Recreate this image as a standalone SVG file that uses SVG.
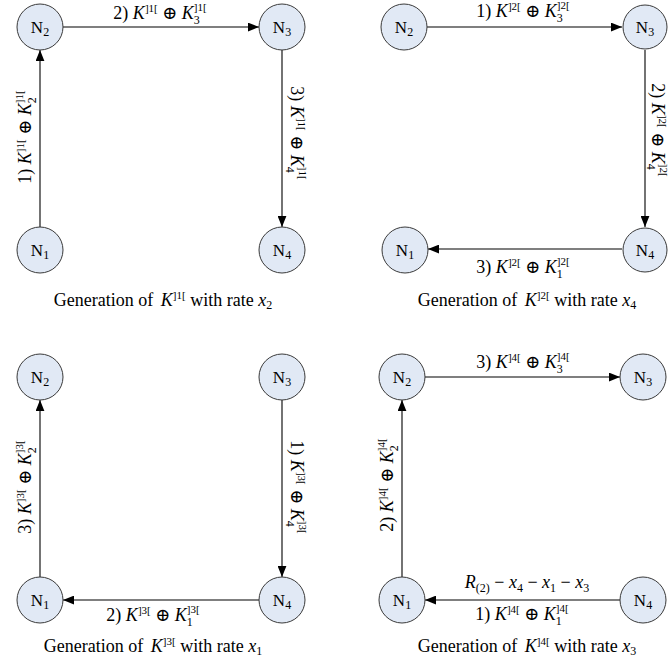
<svg xmlns="http://www.w3.org/2000/svg" width="668" height="666" viewBox="0 0 668 666" font-family="'Liberation Serif', 'Times New Roman', 'DejaVu Serif', serif">
<style>
text{font-family:'Liberation Serif','Times New Roman','DejaVu Serif',serif;fill:#000}
.lbl{font-size:18px;text-anchor:middle}
.cap{font-size:18px;text-anchor:middle}
.nt{font-size:17px;text-anchor:middle}
.i{font-style:italic}
.sup{font-size:11px}
.sub{font-size:12px}
circle{fill:#e1e9f5;stroke:#3a3a3a;stroke-width:1}
.e{stroke:#000;stroke-width:1.1;fill:none;marker-end:url(#arr)}
</style>
<defs>
<marker id="arr" viewBox="0 0 10 8" refX="10" refY="4" markerWidth="11" markerHeight="9" markerUnits="userSpaceOnUse" orient="auto"><path d="M0,0 L10,4 L0,8 z" fill="#000"/></marker>
</defs>

<g id="connectors">
<line class="e" x1="40" y1="227" x2="40" y2="50"/>
<line class="e" x1="63" y1="27" x2="259" y2="27"/>
<line class="e" x1="282" y1="50" x2="282" y2="227"/>
<line class="e" x1="427" y1="27" x2="622" y2="27"/>
<line class="e" x1="645" y1="50" x2="645" y2="227"/>
<line class="e" x1="622" y1="249" x2="428" y2="249"/>
<line class="e" x1="282" y1="400" x2="282" y2="577"/>
<line class="e" x1="259" y1="600" x2="63" y2="600"/>
<line class="e" x1="40" y1="577" x2="40" y2="400"/>
<line class="e" x1="620" y1="600" x2="425" y2="600"/>
<line class="e" x1="402" y1="577" x2="402" y2="400"/>
<line class="e" x1="425" y1="377" x2="620" y2="377"/>
</g>

<g id="tl-n2"><circle cx="40" cy="27" r="23"/><text class="nt" x="40" y="33">N<tspan class="sub" dy="3">2</tspan></text></g>
<g id="tl-n3"><circle cx="282" cy="27" r="23"/><text class="nt" x="282" y="33">N<tspan class="sub" dy="3">3</tspan></text></g>
<g id="tl-n1"><circle cx="40" cy="250" r="23"/><text class="nt" x="40" y="256">N<tspan class="sub" dy="3">1</tspan></text></g>
<g id="tl-n4"><circle cx="282" cy="250" r="23"/><text class="nt" x="282" y="256">N<tspan class="sub" dy="3">4</tspan></text></g>

<g id="tr-n2"><circle cx="404" cy="27" r="23"/><text class="nt" x="404" y="33">N<tspan class="sub" dy="3">2</tspan></text></g>
<g id="tr-n3"><circle cx="645" cy="27" r="22"/><text class="nt" x="645" y="33">N<tspan class="sub" dy="3">3</tspan></text></g>
<g id="tr-n1"><circle cx="405" cy="250" r="23"/><text class="nt" x="405" y="256">N<tspan class="sub" dy="3">1</tspan></text></g>
<g id="tr-n4"><circle cx="645" cy="250" r="22"/><text class="nt" x="645" y="256">N<tspan class="sub" dy="3">4</tspan></text></g>

<g id="bl-n2"><circle cx="40" cy="377" r="23"/><text class="nt" x="40" y="383">N<tspan class="sub" dy="3">2</tspan></text></g>
<g id="bl-n3"><circle cx="282" cy="377" r="23"/><text class="nt" x="282" y="383">N<tspan class="sub" dy="3">3</tspan></text></g>
<g id="bl-n1"><circle cx="40" cy="600" r="23"/><text class="nt" x="40" y="606">N<tspan class="sub" dy="3">1</tspan></text></g>
<g id="bl-n4"><circle cx="282" cy="600" r="23"/><text class="nt" x="282" y="606">N<tspan class="sub" dy="3">4</tspan></text></g>

<g id="br-n2"><circle cx="402" cy="377" r="23"/><text class="nt" x="402" y="383">N<tspan class="sub" dy="3">2</tspan></text></g>
<g id="br-n3"><circle cx="643" cy="377" r="23"/><text class="nt" x="643" y="383">N<tspan class="sub" dy="3">3</tspan></text></g>
<g id="br-n1"><circle cx="402" cy="600" r="23"/><text class="nt" x="402" y="606">N<tspan class="sub" dy="3">1</tspan></text></g>
<g id="br-n4"><circle cx="643" cy="600" r="23"/><text class="nt" x="643" y="606">N<tspan class="sub" dy="3">4</tspan></text></g>

<g id="labels">
<text class="lbl" x="160" y="19">2) <tspan class="i">K</tspan><tspan class="sup" dy="-7">]1[</tspan><tspan dy="7"> ⊕ </tspan><tspan class="i">K</tspan><tspan class="sub" dy="5">3</tspan><tspan class="sup" dx="-6" dy="-13">]1[</tspan></text>
<text class="lbl" transform="translate(31,137) rotate(-90)">1) <tspan class="i">K</tspan><tspan class="sup" dy="-7">]1[</tspan><tspan dy="7"> ⊕ </tspan><tspan class="i">K</tspan><tspan class="sub" dy="5">2</tspan><tspan class="sup" dx="-6" dy="-13">]1[</tspan></text>
<text class="lbl" transform="translate(291,133) rotate(90)">3) <tspan class="i">K</tspan><tspan class="sup" dy="-7">]1[</tspan><tspan dy="7"> ⊕ </tspan><tspan class="i">K</tspan><tspan class="sub" dy="5">4</tspan><tspan class="sup" dx="-6" dy="-13">]1[</tspan></text>

<text class="lbl" x="523" y="17">1) <tspan class="i">K</tspan><tspan class="sup" dy="-7">]2[</tspan><tspan dy="7"> ⊕ </tspan><tspan class="i">K</tspan><tspan class="sub" dy="5">3</tspan><tspan class="sup" dx="-6" dy="-13">]2[</tspan></text>
<text class="lbl" transform="translate(652,130) rotate(90)">2) <tspan class="i">K</tspan><tspan class="sup" dy="-7">]2[</tspan><tspan dy="7"> ⊕ </tspan><tspan class="i">K</tspan><tspan class="sub" dy="5">4</tspan><tspan class="sup" dx="-6" dy="-13">]2[</tspan></text>
<text class="lbl" x="523" y="273">3) <tspan class="i">K</tspan><tspan class="sup" dy="-7">]2[</tspan><tspan dy="7"> ⊕ </tspan><tspan class="i">K</tspan><tspan class="sub" dy="5">1</tspan><tspan class="sup" dx="-6" dy="-13">]2[</tspan></text>

<text class="lbl" transform="translate(31,487) rotate(-90)">3) <tspan class="i">K</tspan><tspan class="sup" dy="-7">]3[</tspan><tspan dy="7"> ⊕ </tspan><tspan class="i">K</tspan><tspan class="sub" dy="5">2</tspan><tspan class="sup" dx="-6" dy="-13">]3[</tspan></text>
<text class="lbl" transform="translate(291,487) rotate(90)">1) <tspan class="i">K</tspan><tspan class="sup" dy="-7">]3[</tspan><tspan dy="7"> ⊕ </tspan><tspan class="i">K</tspan><tspan class="sub" dy="5">4</tspan><tspan class="sup" dx="-6" dy="-13">]3[</tspan></text>
<text class="lbl" x="153" y="621">2) <tspan class="i">K</tspan><tspan class="sup" dy="-7">]3[</tspan><tspan dy="7"> ⊕ </tspan><tspan class="i">K</tspan><tspan class="sub" dy="5">1</tspan><tspan class="sup" dx="-6" dy="-13">]3[</tspan></text>

<text class="lbl" x="523" y="368">3) <tspan class="i">K</tspan><tspan class="sup" dy="-7">]4[</tspan><tspan dy="7"> ⊕ </tspan><tspan class="i">K</tspan><tspan class="sub" dy="5">3</tspan><tspan class="sup" dx="-6" dy="-13">]4[</tspan></text>
<text class="lbl" transform="translate(393,485) rotate(-90)">2) <tspan class="i">K</tspan><tspan class="sup" dy="-7">]4[</tspan><tspan dy="7"> ⊕ </tspan><tspan class="i">K</tspan><tspan class="sub" dy="5">2</tspan><tspan class="sup" dx="-6" dy="-13">]4[</tspan></text>
<text class="lbl" x="527" y="588"><tspan class="i">R</tspan><tspan class="sub" dy="4">(2)</tspan><tspan dy="-4"> − </tspan><tspan class="i">x</tspan><tspan class="sub" dy="4">4</tspan><tspan dy="-4"> − </tspan><tspan class="i">x</tspan><tspan class="sub" dy="4">1</tspan><tspan dy="-4"> − </tspan><tspan class="i">x</tspan><tspan class="sub" dy="4">3</tspan></text>
<text class="lbl" x="522" y="620">1) <tspan class="i">K</tspan><tspan class="sup" dy="-7">]4[</tspan><tspan dy="7"> ⊕ </tspan><tspan class="i">K</tspan><tspan class="sub" dy="5">1</tspan><tspan class="sup" dx="-6" dy="-13">]4[</tspan></text>
</g>

<g id="captions">
<text class="cap" x="163" y="306">Generation of  <tspan class="i" dx="3">K</tspan><tspan class="sup" dy="-7">]1[</tspan><tspan dy="7"> with rate </tspan><tspan class="i">x</tspan><tspan class="sub" dy="3">2</tspan></text>
<text class="cap" x="527" y="306">Generation of  <tspan class="i" dx="3">K</tspan><tspan class="sup" dy="-7">]2[</tspan><tspan dy="7"> with rate </tspan><tspan class="i">x</tspan><tspan class="sub" dy="3">4</tspan></text>
<text class="cap" x="153" y="652">Generation of  <tspan class="i" dx="3">K</tspan><tspan class="sup" dy="-7">]3[</tspan><tspan dy="7"> with rate </tspan><tspan class="i">x</tspan><tspan class="sub" dy="3">1</tspan></text>
<text class="cap" x="527" y="652">Generation of  <tspan class="i" dx="3">K</tspan><tspan class="sup" dy="-7">]4[</tspan><tspan dy="7"> with rate </tspan><tspan class="i">x</tspan><tspan class="sub" dy="3">3</tspan></text>
</g>
</svg>
